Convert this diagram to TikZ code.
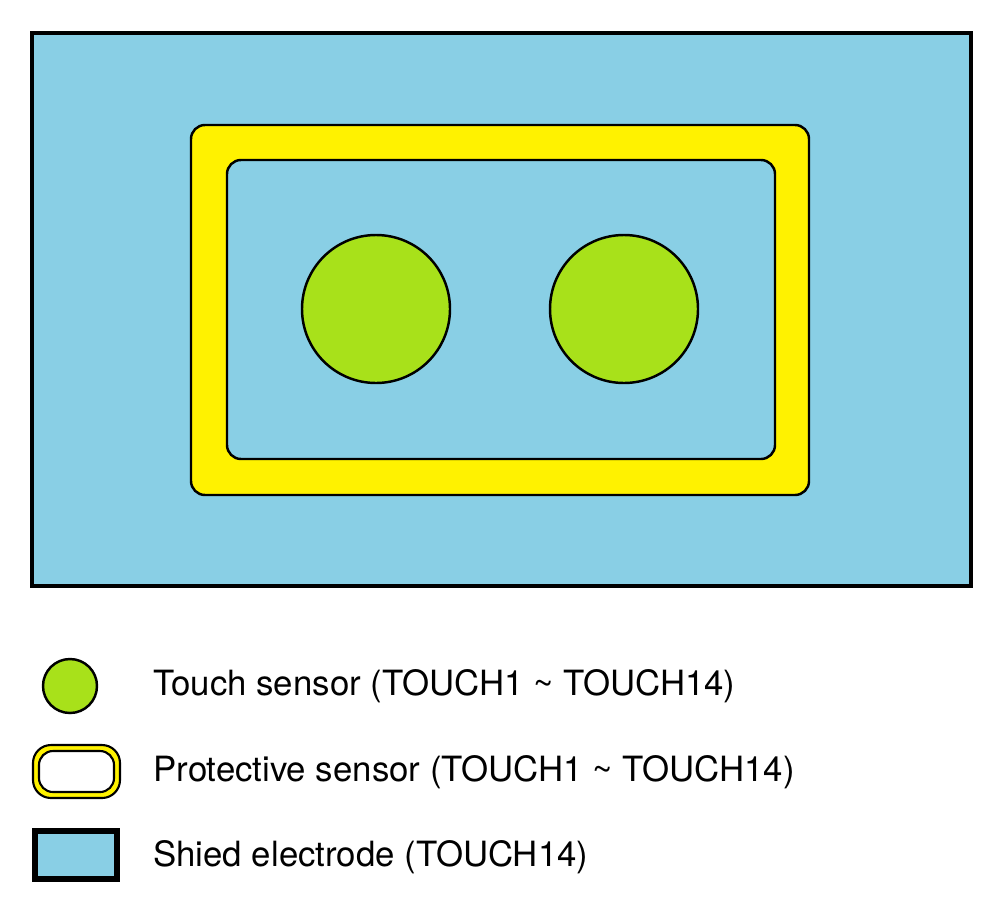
\documentclass[tikz,border=0pt]{standalone}
\usepackage{fontspec}
\setmainfont{TeX Gyre Heros}
\definecolor{shieldblue}{RGB}{137,207,229}
\definecolor{protyellow}{RGB}{255,242,0}
\definecolor{touchgreen}{RGB}{168,225,26}
\begin{document}
\begin{tikzpicture}[x=0.02cm,y=-0.02cm,
  protect/.style={draw=black,fill=protyellow,line width=1.4pt,rounded corners=0.28cm},
  inner/.style={draw=black,fill=shieldblue,line width=1.4pt,rounded corners=0.28cm},
  touch/.style={circle,draw=black,fill=touchgreen,line width=1.4pt,inner sep=0pt},
  legtext/.style={anchor=west,inner sep=0pt,font=\fontsize{19.8}{23}\selectfont}]
\useasboundingbox (0,0) rectangle (1003,923);
% main shield electrode
\draw[draw=black,fill=shieldblue,line width=2.8pt] (32,33) rectangle (971,586);
% protective sensor ring
\draw[protect] (191,125) rectangle (809,495);
\draw[inner] (227,160) rectangle (775,459);
% touch sensors
\node[touch,minimum size=148*0.02cm] (t1) at (376,309) {};
\node[touch,minimum size=148*0.02cm] (t2) at (624,309) {};
% legend
\node[touch,minimum size=54*0.02cm] (lt) at (70,686) {};
\draw[draw=black,fill=protyellow,line width=1.2pt,rounded corners=0.36cm] (33,745) rectangle (120,798);
\draw[draw=black,fill=white,line width=1.2pt,rounded corners=0.28cm] (39,751) rectangle (114,792);
\draw[draw=black,fill=shieldblue,line width=3.2pt] (35,831) rectangle (117,879);
\node[legtext] (l1) at (153,686) {Touch sensor (TOUCH1 \textasciitilde\ TOUCH14)};
\node[legtext] (l2) at (153,772) {Protective sensor (TOUCH1 \textasciitilde\ TOUCH14)};
\node[legtext] (l3) at (153,857) {Shied electrode (TOUCH14)};
\end{tikzpicture}
\end{document}
